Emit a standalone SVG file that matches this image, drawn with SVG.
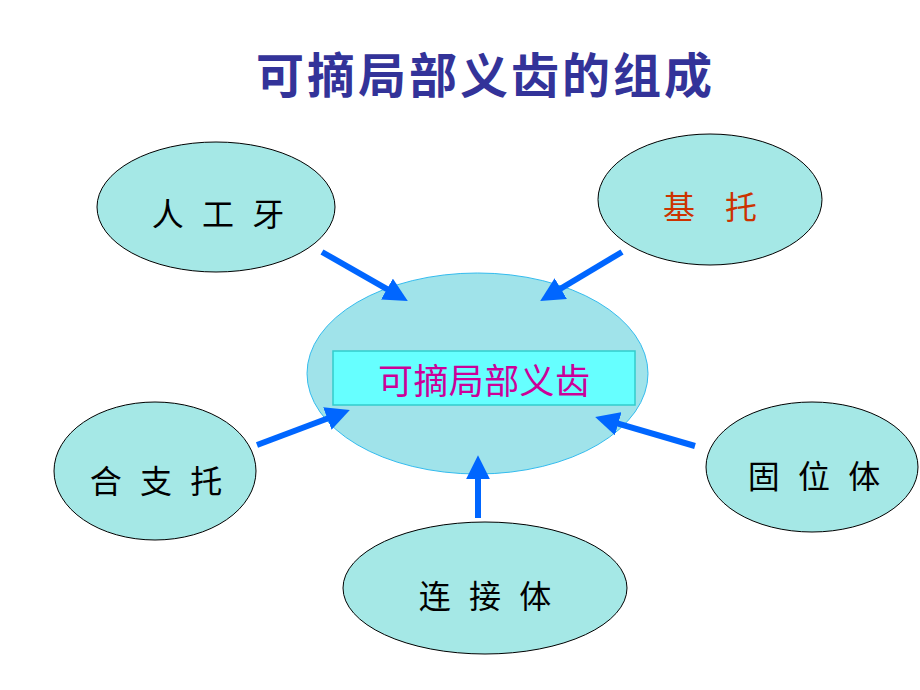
<svg xmlns="http://www.w3.org/2000/svg" width="920" height="690" viewBox="0 0 920 690">
<style>
.node{fill:#a5e8e6;stroke:#000;stroke-width:1}
.lbl{font-family:"Noto Sans CJK SC","Noto Sans CJK JP",sans-serif;font-size:32px;fill:#000;text-anchor:middle;word-spacing:11px}
.arrow{stroke:#0066ff;stroke-width:6;fill:none;marker-end:url(#ah)}
</style>
<defs>
<marker id="ah" viewBox="0 0 10 10" refX="3" refY="5" markerWidth="4" markerHeight="4" orient="auto">
<path d="M0,0 L10,5 L0,10 z" fill="#0066ff"/>
</marker>
</defs>
<rect width="920" height="690" fill="#fff"/>
<text x="256" y="93" font-family="'Noto Sans CJK SC','Noto Sans CJK JP',sans-serif" font-size="48" font-weight="bold" fill="#333399" textLength="456" lengthAdjust="spacing">可摘局部义齿的组成</text>
<g id="center">
<ellipse cx="477.5" cy="373.5" rx="170.5" ry="100.5" fill="#a0e3ea" stroke="#33bbee" stroke-width="1"/>
<rect x="333" y="351" width="302" height="54" fill="#66ffff" stroke="#33cccc" stroke-width="1.5"/>
<text x="378" y="394" font-family="'Noto Sans CJK SC','Noto Sans CJK JP',sans-serif" font-size="35" fill="#cc0099" textLength="212" lengthAdjust="spacing">可摘局部义齿</text>
</g>
<g id="rengongya">
<ellipse class="node" cx="216" cy="207" rx="119" ry="65"/>
<text class="lbl" x="218" y="226">人 工 牙</text>
</g>
<g id="jituo">
<ellipse class="node" cx="710" cy="199.5" rx="112" ry="65.5"/>
<text class="lbl" x="710" y="219" style="fill:#cc3300;word-spacing:23px">基 托</text>
</g>
<g id="hezhituo">
<ellipse class="node" cx="155" cy="471" rx="101" ry="69"/>
<text class="lbl" x="156" y="493">合 支 托</text>
</g>
<g id="guweiti">
<ellipse class="node" cx="812" cy="467" rx="106" ry="65"/>
<text class="lbl" x="814" y="488">固 位 体</text>
</g>
<g id="lianjieti">
<ellipse class="node" cx="485" cy="588" rx="142" ry="66"/>
<text class="lbl" x="485" y="608">连 接 体</text>
</g>
<g id="connectors">
<line class="arrow" x1="322" y1="252" x2="393.2" y2="292.6"/>
<line class="arrow" x1="622" y1="252" x2="554.6" y2="292.3"/>
<line class="arrow" x1="257" y1="445" x2="334.1" y2="416"/>
<line class="arrow" x1="695" y1="446" x2="611.3" y2="421.7"/>
<line class="arrow" x1="478" y1="518" x2="478" y2="472"/>
</g>
</svg>
